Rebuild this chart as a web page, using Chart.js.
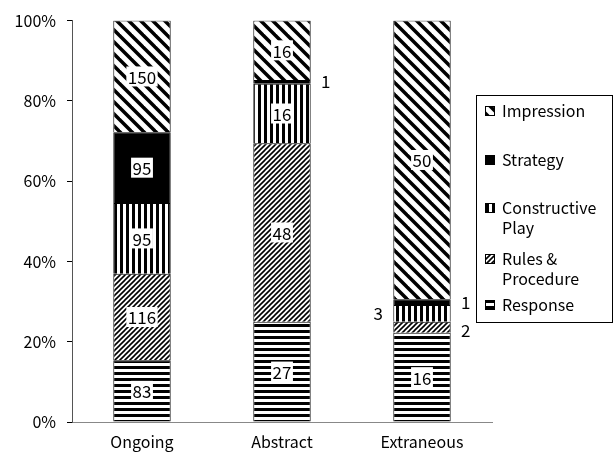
<!DOCTYPE html>
<html>
<head>
<meta charset="utf-8">
<script src="https://cdn.jsdelivr.net/npm/chart.js@4"></script>
<style>
  html, body { margin: 0; padding: 0; background: #fff; }
  #wrap { width: 616px; height: 459px; position: relative; }
</style>
</head>
<body>
<div id="wrap"><canvas id="chart"></canvas></div>
<script>
// categories and counts per series (bottom to top of each bar)
const categories = ['Ongoing', 'Abstract', 'Extraneous'];
const seriesNames = ['Response', 'Rules & Procedure', 'Constructive Play', 'Strategy', 'Impression'];
const response     = [83, 27, 16];
const rules        = [116, 48, 2];
const constructive = [95, 16, 3];
const strategy     = [95, 1, 1];
const impression   = [150, 16, 50];
const yTicks = [0, 20, 40, 60, 80, 100];

// small segments get their count printed beside the bar: [series, category, side]
const outsideLabels = [
    [3, 1, 'right'],
    [3, 2, 'right'],
    [2, 2, 'left'],
    [1, 2, 'right']
];

const FONT = '"Noto Sans CJK JP", "Liberation Sans", sans-serif';
const counts = [response, rules, constructive, strategy, impression];
const totals = categories.map((_, j) => counts.reduce((s, arr) => s + arr[j], 0));
const percents = counts.map(arr => arr.map((v, j) => v / totals[j] * 100));

const canvas = document.getElementById('chart');
const ctx = canvas.getContext('2d');

function makePattern(size, draw) {
    const c = document.createElement('canvas');
    c.width = size; c.height = size;
    const g = c.getContext('2d');
    g.fillStyle = '#fff';
    g.fillRect(0, 0, size, size);
    g.fillStyle = '#000';
    g.strokeStyle = '#000';
    draw(g, size);
    return ctx.createPattern(c, 'repeat');
}

const patterns = [
    // horizontal stripes
    makePattern(6, (g, s) => g.fillRect(0, 0, s, 3)),
    // fine forward diagonal
    makePattern(5, (g, s) => {
        g.lineWidth = 1.6;
        for (let k = -1; k <= 2; k++) {
            g.beginPath(); g.moveTo(-2, k * s + 2); g.lineTo(s + 2, k * s - s - 2); g.stroke();
        }
    }),
    // vertical stripes
    makePattern(6, (g, s) => g.fillRect(0, 0, 3, s)),
    // solid
    '#000',
    // wide back diagonal
    makePattern(12, (g, s) => {
        g.lineWidth = 3.5;
        for (let k = -1; k <= 1; k++) {
            g.beginPath(); g.moveTo(-2, k * s - 2); g.lineTo(s + 2, k * s + s + 2); g.stroke();
        }
    })
];

const segmentLabels = {
    id: 'segmentLabels',
    afterDatasetsDraw(chart) {
        const c = chart.ctx;
        c.save();
        c.font = '17px ' + FONT;
        c.textBaseline = 'middle';
        chart.data.datasets.forEach((ds, i) => {
            const meta = chart.getDatasetMeta(i);
            meta.data.forEach((el, j) => {
                const text = String(counts[i][j]);
                const cy = (el.y + el.base) / 2;
                const out = outsideLabels.find(o => o[0] === i && o[1] === j);
                if (out) {
                    c.fillStyle = '#000';
                    c.textAlign = 'center';
                    const dx = el.width / 2 + 15;
                    c.fillText(text, out[2] === 'right' ? el.x + dx : el.x - dx, cy + (i === 1 ? 3 : 0));
                    return;
                }
                const w = c.measureText(text).width + 3;
                c.fillStyle = '#fff';
                c.fillRect(el.x - w / 2, cy - 10, w, 20);
                c.fillStyle = '#000';
                c.textAlign = 'center';
                c.fillText(text, el.x, cy + 1);
            });
        });
        c.restore();
    }
};

const sideLegend = {
    id: 'sideLegend',
    afterDraw(chart) {
        const c = chart.ctx;
        const box = { x: 476.5, y: 95.5, w: 136, h: 227 };
        const rows = [111, 160, 208, 259, 305];
        c.save();
        c.fillStyle = '#fff';
        c.fillRect(box.x, box.y, box.w, box.h);
        c.strokeStyle = '#000';
        c.lineWidth = 1;
        c.strokeRect(box.x, box.y, box.w, box.h);
        c.font = '16px ' + FONT;
        c.textBaseline = 'middle';
        c.textAlign = 'left';
        // top legend entry is the top series
        for (let n = 0; n < seriesNames.length; n++) {
            const i = seriesNames.length - 1 - n;
            const y = rows[n];
            c.fillStyle = patterns[i];
            c.fillRect(485, y - 5, 10, 10);
            c.strokeStyle = '#000';
            c.strokeRect(485.5, y - 4.5, 9, 9);
            // wrap long names onto a second line
            const words = seriesNames[i].split(' ');
            const lines = [];
            let line = '';
            words.forEach(wd => {
                const test = line ? line + ' ' + wd : wd;
                if (line && c.measureText(test).width > 106) { lines.push(line); line = wd; }
                else line = test;
            });
            lines.push(line);
            c.fillStyle = '#000';
            lines.forEach((ln, k) => c.fillText(ln, 502, y + k * 20));
        }
        c.restore();
    }
};

new Chart(ctx, {
    type: 'bar',
    data: {
        labels: categories,
        datasets: seriesNames.map((name, i) => ({
            label: name,
            data: percents[i],
            backgroundColor: patterns[i],
            borderColor: '#000',
            borderWidth: 1,
            categoryPercentage: 1,
            barPercentage: 0.41
        }))
    },
    options: {
        responsive: true,
        maintainAspectRatio: false,
        animation: false,
        layout: { padding: { top: 17, right: 124, left: 0, bottom: 0 } },
        plugins: {
            legend: { display: false },
            tooltip: { enabled: false }
        },
        scales: {
            x: {
                stacked: true,
                grid: { display: false, drawTicks: false },
                border: { color: '#888', width: 1 },
                ticks: { color: '#000', font: { family: FONT, size: 16 }, padding: 10 },
                afterFit: s => { s.height = 37; }
            },
            y: {
                stacked: true,
                min: 0,
                max: 100,
                afterBuildTicks: s => { s.ticks = yTicks.map(v => ({ value: v })); },
                grid: { drawOnChartArea: false, drawTicks: true, tickLength: 5, color: '#000' },
                border: { color: '#555', width: 1 },
                ticks: {
                    color: '#000',
                    font: { family: FONT, size: 16 },
                    padding: 11,
                    callback: v => v + '%'
                },
                afterFit: s => { s.width = 72; }
            }
        }
    },
    plugins: [segmentLabels, sideLegend]
});
</script>
</body>
</html>
